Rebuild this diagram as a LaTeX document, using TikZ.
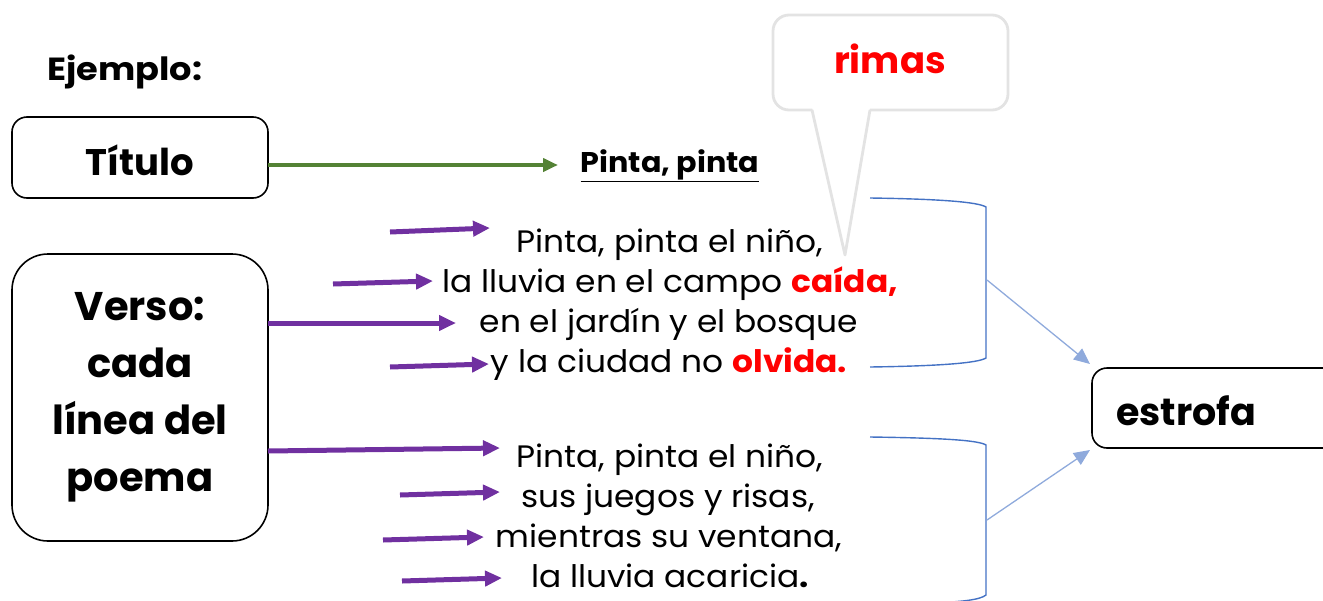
\documentclass[tikz,border=0pt]{standalone}
\usepackage{fontspec}
\setmainfont{Poppins}
\newfontfamily\widefont[FakeStretch=1.06]{Poppins}
\newfontfamily\widerfont[FakeStretch=1.1]{Poppins}
\usetikzlibrary{arrows.meta}
\definecolor{rred}{HTML}{FF0000}
\definecolor{vpurple}{HTML}{7030A0}
\definecolor{tgreen}{HTML}{548235}
\definecolor{bblue}{HTML}{4472C4}
\definecolor{lblue}{HTML}{8FAADC}
\definecolor{cgray}{HTML}{E3E3E3}
\tikzset{
  poem/.style={anchor=base, inner sep=0pt, font=\widefont\fontsize{31}{36}\selectfont},
  blabel/.style={anchor=base, inner sep=0pt, font=\fontsize{40}{48}\selectfont\bfseries},
  boxr/.style={draw=black, line width=1.6pt},
  parrow/.style={vpurple, line width=5pt, -{Triangle[length=17pt,width=15pt]}},
  garrow/.style={tgreen, line width=4pt, -{Triangle[length=15pt,width=13pt]}},
  barrow/.style={lblue, line width=1.3pt, -{Triangle[length=16pt,width=14pt]}},
  bracket/.style={bblue, line width=1.4pt},
}
\begin{document}
\begin{tikzpicture}[x=1pt,y=-1pt]
\useasboundingbox (0,0) rectangle (1323,600);

% Ejemplo
\node[anchor=base west, inner sep=0pt, font=\widerfont\fontsize{32}{36}\selectfont\bfseries] (ej) at (47,80) {Ejemplo:};

% Titulo box
\draw[boxr, rounded corners=15pt] (12,117) rectangle (268,198);
\coordinate (titR) at (268,165);
\node[blabel, font=\fontsize{37}{44}\selectfont\bfseries] (tit) at (140,175) {Título};

% Verso box
\draw[boxr, rounded corners=36pt] (12,254) rectangle (268,541);
\node[blabel] (v1) at (140,320) {Verso:};
\node[blabel] (v2) at (140,377) {cada};
\node[blabel] (v3) at (140,434) {línea del};
\node[blabel] (v4) at (140,491) {poema};

% Pinta pinta title
\node[anchor=base, inner sep=0pt, font=\widefont\fontsize{28.5}{32}\selectfont\bfseries] (pt) at (670,172) {\underline{Pinta, pinta}};
\coordinate (gend) at (558,165);
\draw[garrow] (titR) -- (gend);

% rimas callout
\draw[cgray, line width=2.8pt, fill=white, rounded corners=16pt] (773,15) rectangle (1008,110);
\coordinate (cpL) at (812,110);
\coordinate (cpR) at (870,110);
\coordinate (cpT) at (845,255);
\fill[white] (812,107) -- (845,255) -- (870,107) -- cycle;
\draw[cgray, line width=2.8pt, line join=round] (cpL) -- (cpT) -- (cpR);
\node[anchor=base, inner sep=0pt, font=\fontsize{37}{44}\selectfont\bfseries, text=rred] (rimas) at (890,73) {rimas};

% Stanza 1
\node[poem] (a1) at (670,252) {Pinta, pinta el niño,};
\node[poem] (a2) at (670,292) {la lluvia en el campo \textcolor{rred}{\bfseries caída,}};
\node[poem] (a3) at (669,332) {en el jardín y el bosque};
\node[poem] (a4) at (669,372) {y la ciudad no \textcolor{rred}{\bfseries olvida.}};

% Stanza 2
\node[poem] (b1) at (670,467) {Pinta, pinta el niño,};
\node[poem] (b2) at (668,507) {sus juegos y risas,};
\node[poem] (b3) at (669,547) {mientras su ventana,};
\node[poem] (b4) at (670,587) {la lluvia acaricia\textbf{.}};

% purple arrows
\coordinate (p1s) at (390,232); \coordinate (p1e) at (490,228);
\coordinate (p2s) at (333,284); \coordinate (p2e) at (433,281);
\coordinate (p3s) at (268,323); \coordinate (p3e) at (456,323);
\coordinate (p4s) at (390,367); \coordinate (p4e) at (489,364);
\coordinate (p5s) at (268,451); \coordinate (p5e) at (500,448);
\coordinate (p6s) at (400,495); \coordinate (p6e) at (500,492);
\coordinate (p7s) at (383,540); \coordinate (p7e) at (484,537);
\coordinate (p8s) at (402,581); \coordinate (p8e) at (502,578);
\foreach \i in {1,...,8} {\draw[parrow] (p\i s) -- (p\i e);}

% brackets
\coordinate (k1a) at (870,198);
\coordinate (k1b) at (986,207);
\coordinate (k1c) at (986,358);
\coordinate (k1d) at (870,367);
\draw[bracket] (k1a) .. controls (940,199) and (978,202) .. (k1b) -- (k1c) .. controls (978,363) and (940,366) .. (k1d);
\coordinate (k2a) at (870,437);
\coordinate (k2b) at (986,445);
\coordinate (k2c) at (986,595);
\coordinate (k2d) at (930,603);
\draw[bracket] (k2a) .. controls (940,438) and (978,440) .. (k2b) -- (k2c) .. controls (980,600) and (960,602) .. (k2d);

% estrofa box
\draw[boxr, rounded corners=15pt] (1092,368) rectangle (1345,448);
\node[anchor=base west, inner sep=0pt, font=\fontsize{38}{46}\selectfont\bfseries] (estrofa) at (1116,425) {estrofa};
\coordinate (e1) at (1090,364);
\coordinate (e2) at (1090,450);
\coordinate (m1) at (987,280);
\coordinate (m2) at (987,520);
\draw[barrow] (m1) -- (e1);
\draw[barrow] (m2) -- (e2);
\end{tikzpicture}
\end{document}
